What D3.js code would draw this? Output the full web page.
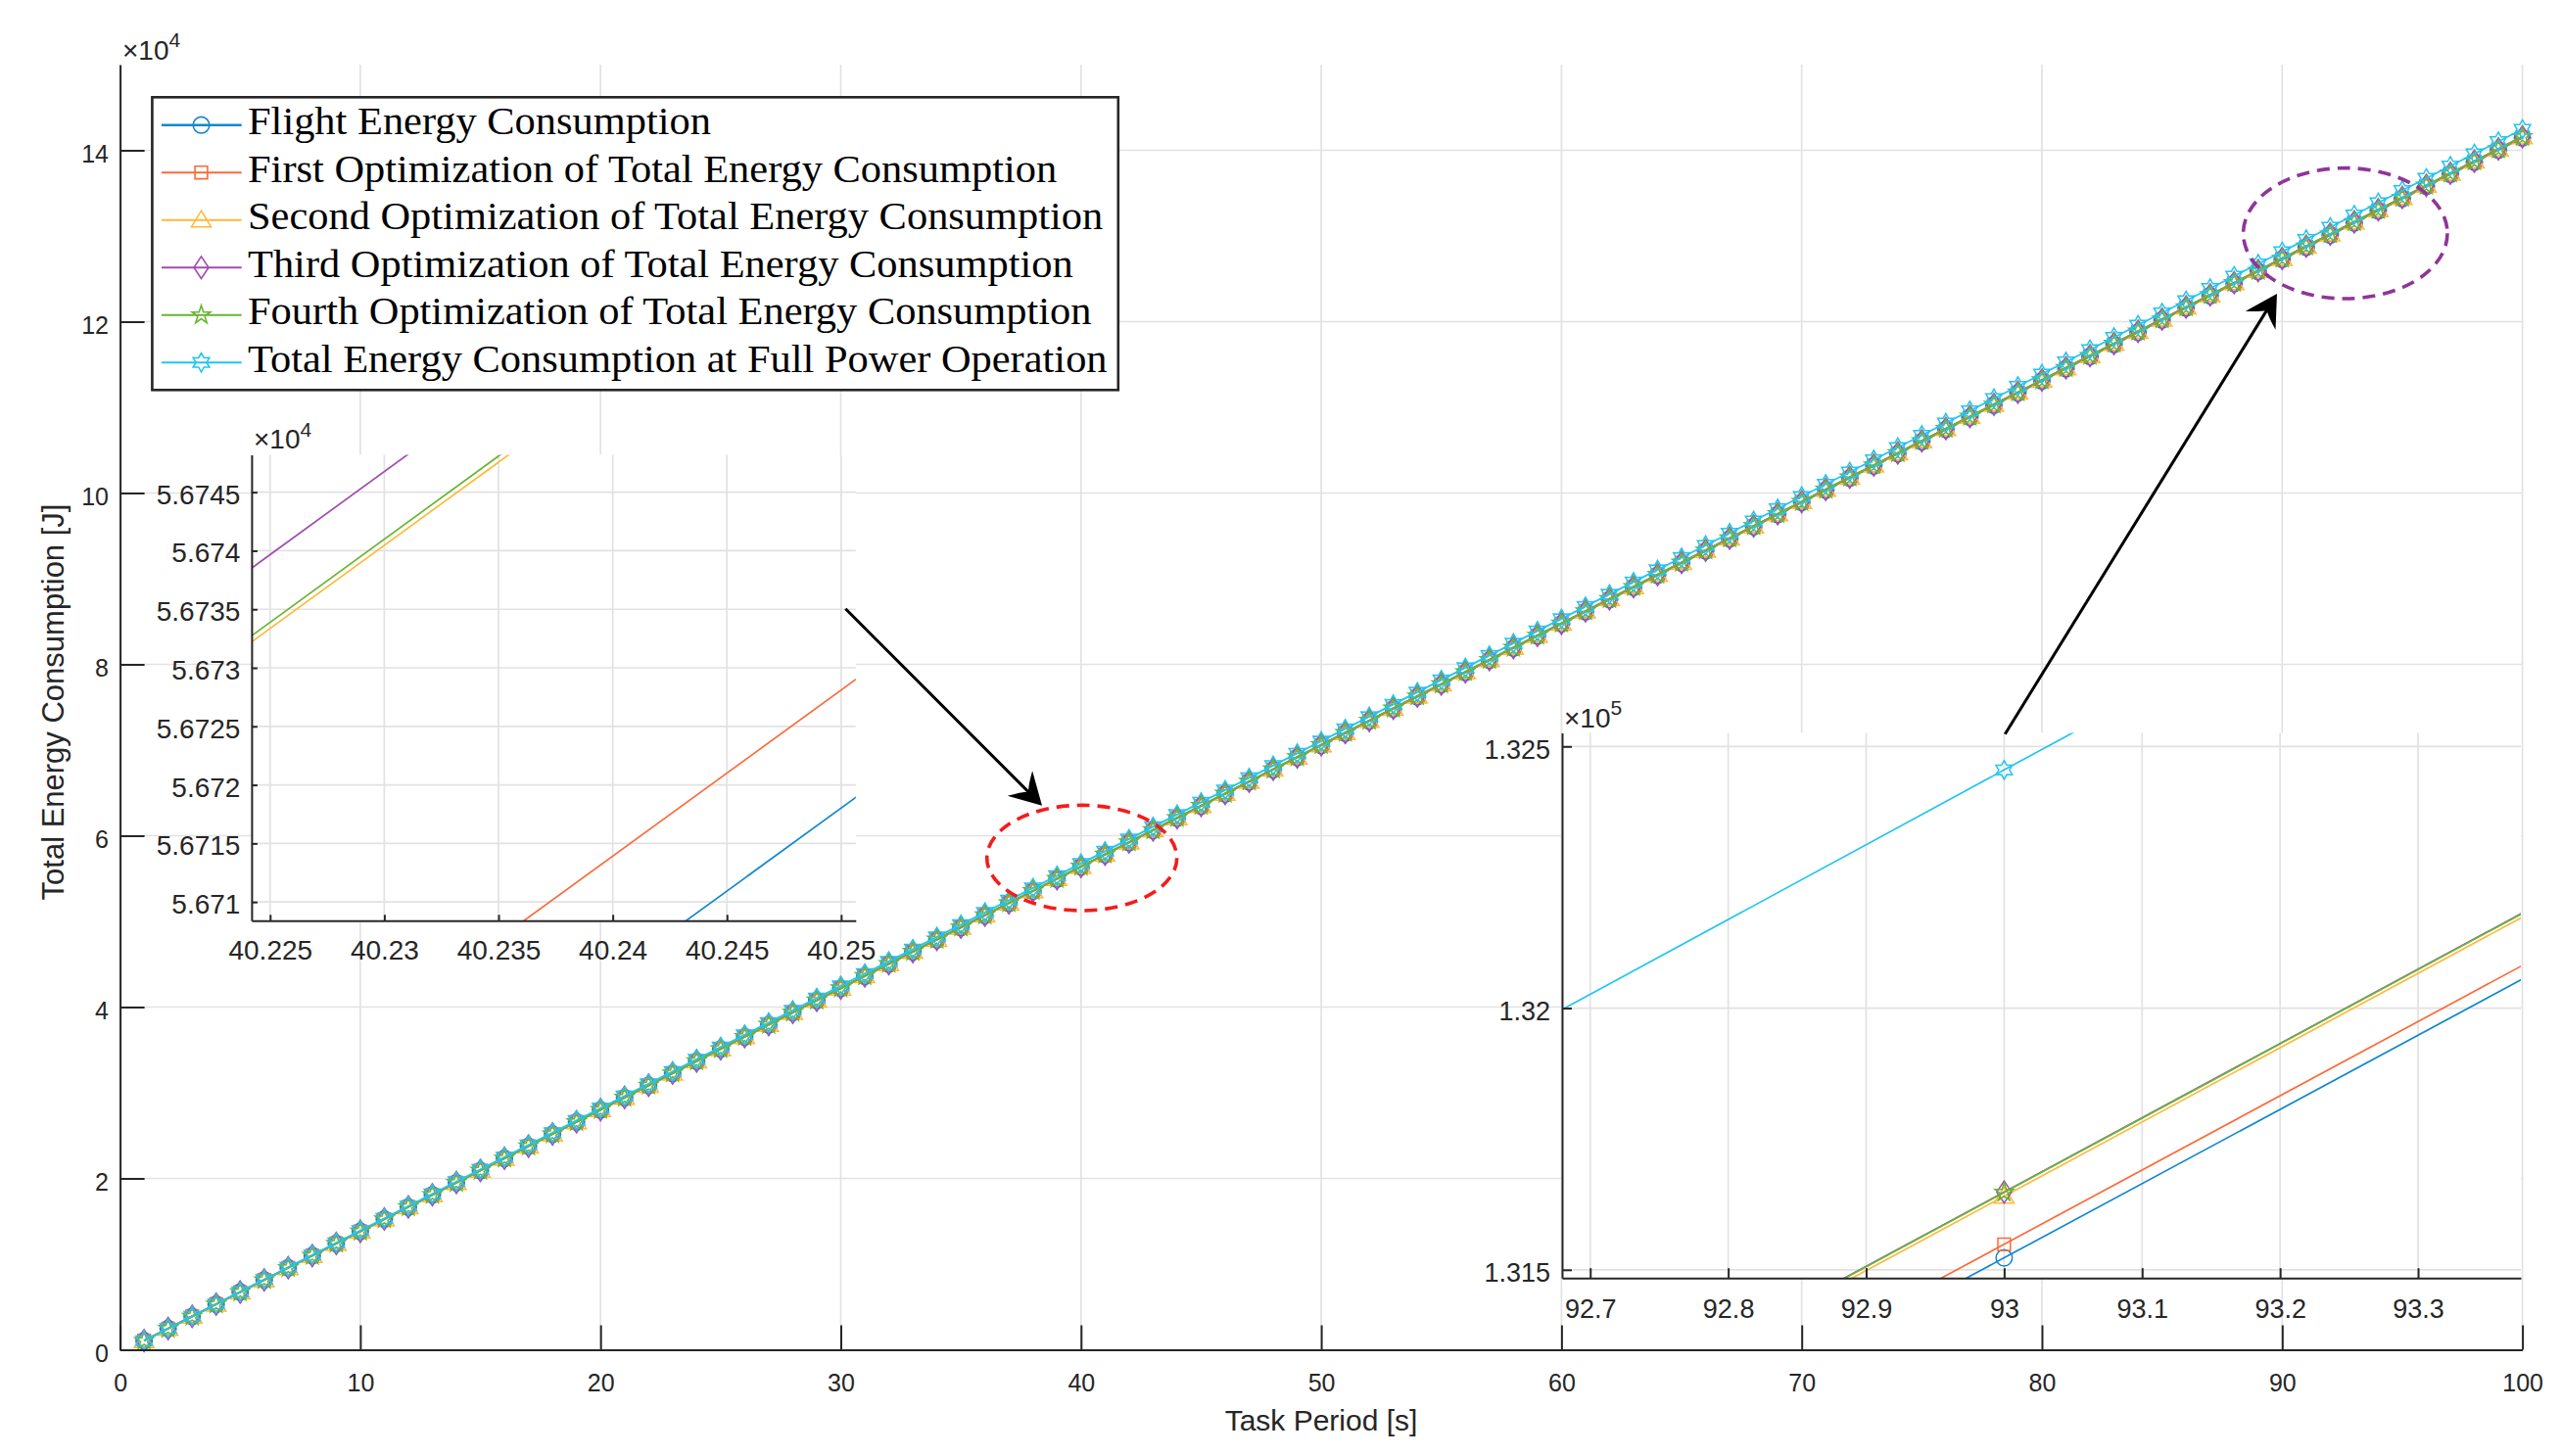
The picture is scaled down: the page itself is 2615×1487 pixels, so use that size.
<!DOCTYPE html>
<html><head><meta charset="utf-8">
<script src="https://cdn.jsdelivr.net/npm/d3@7"></script>
<style>html,body{margin:0;padding:0;background:#fff}svg{display:block}</style>
</head><body><svg id="c" width="2615" height="1487"></svg>
<script>
// ---------------- DATA ----------------
const taskPeriod = [1,2,3,4,5,6,7,8,9,10,11,12,13,14,15,16,17,18,19,20,21,22,23,24,25,26,27,28,29,30,
31,32,33,34,35,36,37,38,39,40,41,42,43,44,45,46,47,48,49,50,51,52,53,54,55,56,57,58,59,60,
61,62,63,64,65,66,67,68,69,70,71,72,73,74,75,76,77,78,79,80,81,82,83,84,85,86,87,88,89,90,
91,92,93,94,95,96,97,98,99,100];

const flightEnergy = [
1058, 2476, 3894, 5312, 6730, 8148, 9566, 10984, 12402, 13820,
15239, 16657, 18075, 19493, 20911, 22329, 23747, 25165, 26583, 28001,
29420, 30838, 32256, 33674, 35092, 36510, 37928, 39346, 40764, 42182,
43601, 45019, 46437, 47855, 49273, 50691, 52109, 53527, 54945, 56363.5,
57781.6, 59200, 60618, 62036, 63454, 64872, 66290, 67708, 69126, 70544,
71963, 73381, 74799, 76217, 77635, 79053, 80471, 81889, 83307, 84725,
86144, 87562, 88980, 90398, 91816, 93234, 94652, 96070, 97488, 98906,
100325, 101743, 103161, 104579, 105997, 107415, 108833, 110251, 111669, 113087,
114506, 115924, 117342, 118760, 120178, 121596, 123014, 124432, 125850, 127268,
128687, 130104.7, 131522.8, 132940.9, 134359, 135777, 137195, 138613, 140031, 141449];

const firstOptEnergy = [
1058, 2476, 3894, 5312, 6730, 8148, 9566, 10984, 12402, 13820,
15242, 16660, 18078, 19496, 20914, 22332, 23750, 25168, 26586, 28004,
29426, 30844, 32262, 33680, 35098, 36516, 37934, 39352, 40770, 42188,
43610, 45028, 46446, 47864, 49282, 50700, 52118, 53536, 54954, 56373.5,
57791.9, 59212, 60630, 62048, 63466, 64884, 66302, 67720, 69138, 70556,
71978, 73396, 74814, 76232, 77650, 79068, 80486, 81904, 83322, 84740,
86162, 87580, 88998, 90416, 91834, 93252, 94670, 96088, 97506, 98924,
100346, 101764, 103182, 104600, 106018, 107436, 108854, 110272, 111690, 113108,
114530, 115948, 117366, 118784, 120202, 121620, 123038, 124456, 125874, 127292,
128712, 130130.3, 131548.7, 132967.1, 134387, 135805, 137223, 138641, 140059, 141477];

const secondOptEnergy = [
1065, 2483, 3901, 5319, 6737, 8155, 9573, 10991, 12409, 13827,
15258, 16676, 18094, 19512, 20930, 22348, 23766, 25184, 26602, 28020,
29452, 30870, 32288, 33706, 35124, 36542, 37960, 39378, 40796, 42214,
43645, 45063, 46481, 47899, 49317, 50735, 52153, 53571, 54989, 56414.0,
57833.4, 59258, 60676, 62094, 63512, 64930, 66348, 67766, 69184, 70602,
72033, 73451, 74869, 76287, 77705, 79123, 80541, 81959, 83377, 84795,
86227, 87645, 89063, 90481, 91899, 93317, 94735, 96153, 97571, 98989,
100421, 101839, 103257, 104675, 106093, 107511, 108929, 110347, 111765, 113183,
114614, 116032, 117450, 118868, 120286, 121704, 123122, 124540, 125958, 127376,
128802, 130221.1, 131640.5, 133059.9, 134483, 135901, 137319, 138737, 140155, 141573];

const thirdOptEnergy = [
1070, 2488, 3906, 5324, 6742, 8160, 9578, 10996, 12414, 13832,
15264, 16682, 18100, 19518, 20936, 22354, 23772, 25190, 26608, 28026,
29458, 30876, 32294, 33712, 35130, 36548, 37966, 39384, 40802, 42220,
43651, 45069, 46487, 47905, 49323, 50741, 52159, 53577, 54995, 56420.3,
57839.7, 59265, 60683, 62101, 63519, 64937, 66355, 67773, 69191, 70609,
72040, 73458, 74876, 76294, 77712, 79130, 80548, 81966, 83384, 84802,
86234, 87652, 89070, 90488, 91906, 93324, 94742, 96160, 97578, 98996,
100428, 101846, 103264, 104682, 106100, 107518, 108936, 110354, 111772, 113190,
114622, 116040, 117458, 118876, 120294, 121712, 123130, 124548, 125966, 127384,
128810, 130229.1, 131648.5, 133067.9, 134491, 135909, 137327, 138745, 140163, 141581];

const fourthOptEnergy = [
1061, 2479, 3897, 5315, 6733, 8151, 9569, 10987, 12405, 13823,
15256, 16674, 18092, 19510, 20928, 22346, 23764, 25182, 26600, 28018,
29451, 30869, 32287, 33705, 35123, 36541, 37959, 39377, 40795, 42213,
43645, 45063, 46481, 47899, 49317, 50735, 52153, 53571, 54989, 56414.5,
57834.0, 59259, 60677, 62095, 63513, 64931, 66349, 67767, 69185, 70603,
72036, 73454, 74872, 76290, 77708, 79126, 80544, 81962, 83380, 84798,
86231, 87649, 89067, 90485, 91903, 93321, 94739, 96157, 97575, 98993,
100426, 101844, 103262, 104680, 106098, 107516, 108934, 110352, 111770, 113188,
114621, 116039, 117457, 118875, 120293, 121711, 123129, 124547, 125965, 127383,
128809, 130228.3, 131647.8, 133067.3, 134491, 135909, 137327, 138745, 140163, 141581];

const fullPowerEnergy = [
1060, 2488, 3917, 5345, 6773, 8201, 9629, 11058, 12486, 13914,
15342, 16770, 18199, 19627, 21055, 22483, 23911, 25340, 26768, 28196,
29624, 31052, 32481, 33909, 35337, 36765, 38193, 39622, 41050, 42478,
43906, 45334, 46763, 48191, 49619, 51047, 52475, 53904, 55332, 56760,
58188, 59616, 61045, 62473, 63901, 65329, 66757, 68186, 69614, 71042,
72470, 73898, 75327, 76755, 78183, 79611, 81039, 82468, 83896, 85324,
86752, 88180, 89609, 91037, 92465, 93893, 95321, 96750, 98178, 99606,
101034, 102462, 103891, 105319, 106747, 108175, 109603, 111032, 112460, 113888,
115316, 116744, 118173, 119601, 121029, 122457, 123885, 125314, 126742, 128170,
129598, 131026, 132455, 133883, 135311, 136739, 138167, 139596, 141024, 142452];

const seriesNames = [
  "Flight Energy Consumption",
  "First Optimization of Total Energy Consumption",
  "Second Optimization of Total Energy Consumption",
  "Third Optimization of Total Energy Consumption",
  "Fourth Optimization of Total Energy Consumption",
  "Total Energy Consumption at Full Power Operation"
];

const mainXTicks = [0,10,20,30,40,50,60,70,80,90,100];
const mainXLabels = ["0","10","20","30","40","50","60","70","80","90","100"];
const mainYTicks = [0,20000,40000,60000,80000,100000,120000,140000];
const mainYLabels = ["0","2","4","6","8","10","12","14"];

const inset1XTicks = [40.225,40.23,40.235,40.24,40.245,40.25];
const inset1XLabels = ["40.225","40.23","40.235","40.24","40.245","40.25"];
const inset1YTicks = [56710,56715,56720,56725,56730,56735,56740,56745];
const inset1YLabels = ["5.671","5.6715","5.672","5.6725","5.673","5.6735","5.674","5.6745"];

const inset2XTicks = [92.7,92.8,92.9,93,93.1,93.2,93.3];
const inset2XLabels = ["92.7","92.8","92.9","93","93.1","93.2","93.3"];
const inset2YTicks = [131500,132000,132500];
const inset2YLabels = ["1.315","1.32","1.325"];

// ---------------- STYLE / LAYOUT ----------------
const seriesValues = [flightEnergy, firstOptEnergy, secondOptEnergy, thirdOptEnergy, fourthOptEnergy, fullPowerEnergy];
const colors = ['#1387d0','#fb6a3a','#fdb93a','#a24cb0','#68b532','#22c5f0'];
const markerTypes = ['circle','square','triangle','diamond','pentagram','hexagram'];
const AX = '#262626', GRID = '#e2e2e2';
const SANS = '"Liberation Sans", Arial, Helvetica, sans-serif';
const SERIF = '"Liberation Serif", "Times New Roman", serif';

function starPath(n, R, r) {
  let p = '';
  for (let i = 0; i < 2*n; i++) {
    const a = -Math.PI/2 + i*Math.PI/n, rr = i % 2 ? r : R;
    p += (i ? 'L' : 'M') + (rr*Math.cos(a)).toFixed(2) + ',' + (rr*Math.sin(a)).toFixed(2);
  }
  return p + 'Z';
}
const markerPaths = {
  circle: 'M8.3,0A8.3,8.3 0 1,1 -8.3,0A8.3,8.3 0 1,1 8.3,0Z',
  square: 'M-6.4,-6.4H6.4V6.4H-6.4Z',
  triangle: 'M0,-9.5L10,7L-10,7Z',
  diamond: 'M0,-11.3L7.5,0L0,11.3L-7.5,0Z',
  pentagram: starPath(5, 9.8, 3.8),
  hexagram: starPath(6, 9.6, 5.5)
};

const svg = d3.select('#c');
svg.append('rect').attr('width', 2615).attr('height', 1487).attr('fill', '#fff');
const defs = svg.append('defs');

function panel(cfg) {
  const g = svg.append('g');
  const xs = d3.scaleLinear().domain(cfg.xDom).range(cfg.xRange);
  const ys = d3.scaleLinear().domain(cfg.yDom).range(cfg.yRange);
  const [x0, x1] = cfg.xRange, [yb, yt] = cfg.yRange;
  if (cfg.bg) g.append('rect').attr('x', x0).attr('y', yt).attr('width', x1 - x0).attr('height', yb - yt).attr('fill', '#fff');
  g.append('g').selectAll('line').data(cfg.xTicks).join('line')
    .attr('x1', d => xs(d)).attr('x2', d => xs(d)).attr('y1', yb).attr('y2', yt)
    .attr('stroke', GRID).attr('stroke-width', 1.7);
  g.append('g').selectAll('line').data(cfg.yTicks).join('line')
    .attr('x1', x0).attr('x2', x1).attr('y1', d => ys(d)).attr('y2', d => ys(d))
    .attr('stroke', GRID).attr('stroke-width', 1.7);
  const clipId = cfg.id + '-clip';
  defs.append('clipPath').attr('id', clipId).append('rect')
    .attr('x', x0).attr('y', yt).attr('width', x1 - x0).attr('height', yb - yt);
  const dg = g.append('g').attr('clip-path', cfg.clip ? `url(#${clipId})` : null);
  const tMin = Math.floor(cfg.xDom[0]) - 1, tMax = Math.ceil(cfg.xDom[1]) + 1;
  seriesValues.forEach((vals, i) => {
    const pts = taskPeriod.map((t, j) => ({t, v: vals[j]})).filter(d => d.t >= tMin && d.t <= tMax);
    dg.append('path').attr('d', d3.line().x(d => xs(d.t)).y(d => ys(d.v))(pts))
      .attr('fill', 'none').attr('stroke', colors[i]).attr('stroke-width', cfg.lw);
    const mp = pts.filter(d => d.t >= cfg.xDom[0] && d.t <= cfg.xDom[1] && d.v >= cfg.yDom[0] && d.v <= cfg.yDom[1]);
    dg.append('g').selectAll('path').data(mp).join('path')
      .attr('transform', d => `translate(${xs(d.t)},${ys(d.v)})`)
      .attr('d', markerPaths[markerTypes[i]])
      .attr('fill', 'none').attr('stroke', colors[i]).attr('stroke-width', 1.5);
  });
  const xa = g.append('g').attr('transform', `translate(0,${yb})`)
    .call(d3.axisBottom(xs).tickValues(cfg.xTicks).tickFormat((d, i) => cfg.xLabels[i]).tickSize(-cfg.tick).tickSizeOuter(0));
  const ya = g.append('g').attr('transform', `translate(${x0},0)`)
    .call(d3.axisLeft(ys).tickValues(cfg.yTicks).tickFormat((d, i) => cfg.yLabels[i]).tickSize(-cfg.tick).tickSizeOuter(0));
  [xa, ya].forEach(a => {
    a.attr('font-size', null).attr('font-family', null);
    a.select('.domain').attr('stroke', AX).attr('stroke-width', 2);
    a.selectAll('.tick line').attr('stroke', AX).attr('stroke-width', 2);
    a.selectAll('.tick text').attr('fill', AX).attr('font-size', cfg.fs).attr('font-family', SANS).attr('dy', null);
  });
  xa.selectAll('.tick text').attr('y', cfg.xLabOff).attr('text-anchor', 'middle');
  ya.selectAll('.tick text').attr('x', -cfg.yLabGap).attr('y', cfg.yLabBase).attr('text-anchor', 'end');
  const ex = g.append('text').attr('x', cfg.exp.x).attr('y', cfg.exp.y)
    .attr('font-family', SANS).attr('fill', AX).attr('font-size', cfg.exp.fs);
  ex.append('tspan').text('\u00d710');
  ex.append('tspan').attr('font-size', cfg.exp.fs * 0.75).attr('dy', -cfg.exp.fs * 0.45).text(cfg.exp.p);
  return {g, xs, ys};
}

// main axes
panel({
  id: 'main', xDom: [0, 100], xRange: [122.6, 2575.6], yDom: [0, 150000], yRange: [1378.5, 66],
  xTicks: mainXTicks, xLabels: mainXLabels, yTicks: mainYTicks, yLabels: mainYLabels,
  tick: 25, fs: 25, xLabOff: 42, yLabGap: 11.6, yLabBase: 11.5, lw: 1.8, bg: false, clip: false,
  exp: {x: 125, y: 61, p: '4', fs: 28}
});

// axis titles
svg.append('text').attr('x', 1349).attr('y', 1461).attr('text-anchor', 'middle')
  .attr('font-family', SANS).attr('font-size', 30).attr('fill', AX).text('Task Period [s]');
svg.append('text').attr('transform', 'translate(65,717) rotate(-90)').attr('text-anchor', 'middle')
  .attr('font-family', SANS).attr('font-size', 31).attr('fill', AX).text('Total Energy Consumption [J]');

// inset 1 (around t = 40)
panel({
  id: 'in1', xDom: [40.22419, 40.25064], xRange: [256.9, 873.8], yDom: [56708.4, 56748.2], yRange: [940.3, 464.4],
  xTicks: inset1XTicks, xLabels: inset1XLabels, yTicks: inset1YTicks, yLabels: inset1YLabels,
  tick: 6, fs: 28, xLabOff: 39.5, yLabGap: 11.5, yLabBase: 11.5, lw: 1.7, bg: true, clip: true,
  exp: {x: 259, y: 458.4, p: '4', fs: 28}
});

// inset 2 (around t = 93)
panel({
  id: 'in2', xDom: [92.6796, 93.3745], xRange: [1595, 2574], yDom: [131484.3, 132526], yRange: [1305.2, 748.4],
  xTicks: inset2XTicks, xLabels: inset2XLabels, yTicks: inset2YTicks, yLabels: inset2YLabels,
  tick: 10, fs: 27, xLabOff: 41, yLabGap: 12, yLabBase: 11.7, lw: 1.7, bg: true, clip: true,
  exp: {x: 1597, y: 743, p: '5', fs: 28}
});

// legend
const leg = svg.append('g');
leg.append('rect').attr('x', 155.4).attr('y', 99.3).attr('width', 986.4).attr('height', 299)
  .attr('fill', '#fff').attr('stroke', AX).attr('stroke-width', 2.6);
const rowY = i => 127.7 + 48.5 * i;
const labG = [];
seriesNames.forEach((name, i) => {
  const cy = rowY(i);
  leg.append('line').attr('x1', 165).attr('x2', 246.7).attr('y1', cy).attr('y2', cy)
    .attr('stroke', colors[i]).attr('stroke-width', i === 0 ? 2.5 : 2);
  leg.append('path').attr('transform', `translate(205.5,${cy})`).attr('d', markerPaths[markerTypes[i]])
    .attr('fill', 'none').attr('stroke', colors[i]).attr('stroke-width', 1.6);
  const tg = leg.append('g').attr('data-y', cy + 9.5);
  tg.append('text').attr('x', 0).attr('y', 0).attr('font-family', SERIF).attr('font-size', 40)
    .attr('fill', '#000').text(name);
  labG.push(tg);
});
let maxW = 0;
labG.forEach(tg => { maxW = Math.max(maxW, tg.select('text').node().getComputedTextLength()); });
const kx = maxW > 0 ? 878 / maxW : 1;
labG.forEach(tg => tg.attr('transform', `translate(253,${tg.attr('data-y')}) scale(${kx},1)`));

// annotations: dashed ellipses and arrows
const ann = svg.append('g');
ann.append('ellipse').attr('cx', 1104.7).attr('cy', 876.2).attr('rx', 97).attr('ry', 53.8)
  .attr('fill', 'none').attr('stroke', '#f41c1c').attr('stroke-width', 3.6).attr('stroke-dasharray', '13,8');
ann.append('ellipse').attr('cx', 2394.8).attr('cy', 238.3).attr('rx', 104.2).attr('ry', 66.7)
  .attr('fill', 'none').attr('stroke', '#8f3598').attr('stroke-width', 3.6).attr('stroke-dasharray', '13,8');

function arrow(tail, tip, L, w) {
  const dx = tip[0] - tail[0], dy = tip[1] - tail[1], len = Math.hypot(dx, dy);
  const ux = dx / len, uy = dy / len, nx = -uy, ny = ux;
  const bx = tip[0] - L * ux, by = tip[1] - L * uy;
  const c1 = [bx + w * nx, by + w * ny], c2 = [bx - w * nx, by - w * ny];
  const nt = [tip[0] - 0.62 * L * ux, tip[1] - 0.62 * L * uy];
  const q1 = [tip[0] - 0.78 * L * ux + 0.3 * w * nx, tip[1] - 0.78 * L * uy + 0.3 * w * ny];
  const q2 = [tip[0] - 0.78 * L * ux - 0.3 * w * nx, tip[1] - 0.78 * L * uy - 0.3 * w * ny];
  ann.append('line').attr('x1', tail[0]).attr('y1', tail[1]).attr('x2', nt[0]).attr('y2', nt[1])
    .attr('stroke', '#000').attr('stroke-width', 3);
  ann.append('path').attr('d', `M${tip}L${c1}Q${q1} ${nt}Q${q2} ${c2}Z`).attr('fill', '#000');
}
arrow([863.3, 621.7], [1064, 822.7], 32, 18);
arrow([2047.3, 749.7], [2325, 300], 32, 18);
</script>
</body></html>
